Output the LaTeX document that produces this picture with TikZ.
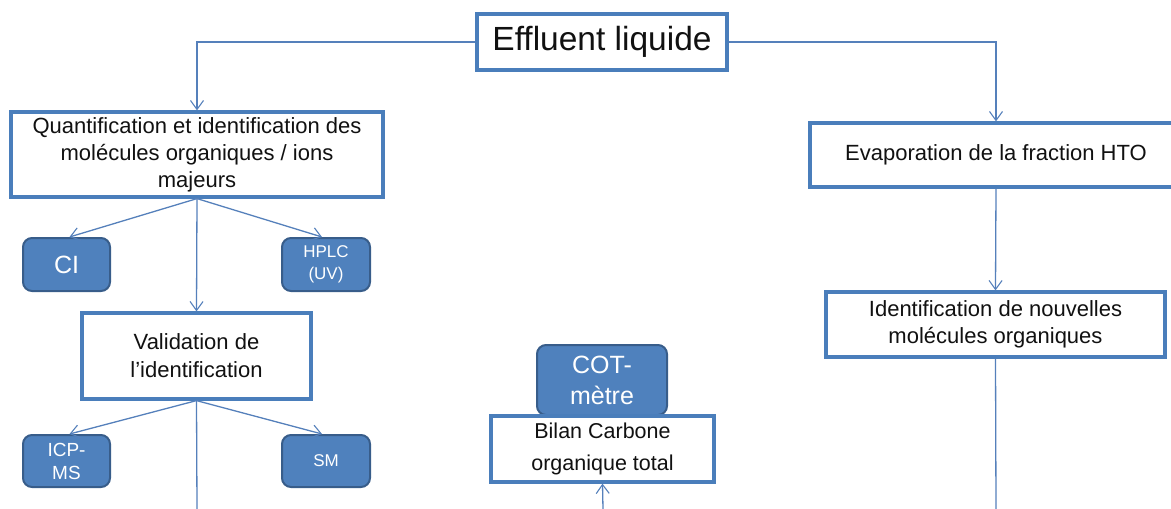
\documentclass[tikz,border=0pt]{standalone}
\usepackage{fontspec}
\setmainfont{Liberation Sans}
\usetikzlibrary{arrows.meta}
\definecolor{boxline}{HTML}{4A7EBB}
\definecolor{connline}{HTML}{5580BB}
\definecolor{darkfill}{HTML}{4F81BD}
\definecolor{darkline}{HTML}{385D8A}
\definecolor{txt}{HTML}{111111}
\tikzset{
  whitebox/.style={draw=boxline, line width=3.2pt, fill=white, rectangle, align=center, inner sep=0pt, text=txt},
  bluebox/.style={draw=darkline, line width=2pt, fill=darkfill, rectangle, rounded corners=9pt, align=center, inner sep=0pt, text=white},
  conn/.style={draw=connline, line width=1.3pt},
  arr/.style={conn, -{Straight Barb[length=9pt,width=13pt,line width=1.1pt]}}
}
\begin{document}
\begin{tikzpicture}[x=1pt,y=-1pt]
\useasboundingbox (0,0) rectangle (1171,509);
\clip (0,0) rectangle (1171,509);
% nodes
\node[whitebox, minimum width=250pt, minimum height=56pt, font=\fontsize{33.5}{38}\selectfont] (eff) at (602,42) {Effluent liquide};
\node[whitebox, minimum width=372pt, minimum height=85pt, font=\fontsize{22}{27}\selectfont] (quant) at (197,154.5) {Quantification et identification des\\molécules organiques / ions\\majeurs};
\node[bluebox, minimum width=87pt, minimum height=53pt, font=\fontsize{25}{30}\selectfont] (ci) at (66.5,264.5) {CI};
\node[bluebox, minimum width=88pt, minimum height=53pt, font=\fontsize{17}{22}\selectfont] (hplc) at (326,264.5) {HPLC\\(UV)};
\node[whitebox, minimum width=229pt, minimum height=86pt, font=\fontsize{22}{28}\selectfont] (valid) at (196.5,356) {Validation de\\l’identification};
\node[bluebox, minimum width=87pt, minimum height=52pt, font=\fontsize{19}{23}\selectfont] (icp) at (66.5,461) {ICP-\\MS};
\node[bluebox, minimum width=88pt, minimum height=52pt, font=\fontsize{17}{22}\selectfont] (sm) at (326,461) {SM};
\node[bluebox, minimum width=130pt, minimum height=70pt, font=\fontsize{25}{31}\selectfont] (cot) at (602,380) {COT-\\mètre};
\node[whitebox, minimum width=223pt, minimum height=66pt, font=\fontsize{21.5}{32}\selectfont] (bilan) at (602.5,449) {Bilan Carbone\\organique total};
\node[whitebox, minimum width=372pt, minimum height=64pt, font=\fontsize{22}{27}\selectfont] (evap) at (996,155) {Evaporation de la fraction HTO};
\node[whitebox, minimum width=339pt, minimum height=65pt, font=\fontsize{22}{27}\selectfont] (ident) at (995.5,324.5) {Identification de nouvelles\\molécules organiques};
% free ends
\coordinate (endL) at (197,509);
\coordinate (endC) at (603,509);
\coordinate (endR) at (996,509);
% connectors
\draw[arr] (eff.west) -| (quant.north);
\draw[arr] (eff.east) -| (evap.north);
\draw[arr] (quant.south) -- ([xshift=3pt]ci.north);
\draw[arr] (quant.south) -- ([xshift=-4pt]hplc.north);
\draw[arr] (quant.south) -- (valid.north);
\draw[arr] (valid.south) -- ([xshift=3pt]icp.north);
\draw[arr] (valid.south) -- ([xshift=-4pt]sm.north);
\draw[conn] (valid.south) -- (endL);
\draw[arr] (endC) -- (bilan.south);
\draw[arr] (evap.south) -- (ident.north);
\draw[conn] (ident.south) -- (endR);
\end{tikzpicture}
\end{document}
